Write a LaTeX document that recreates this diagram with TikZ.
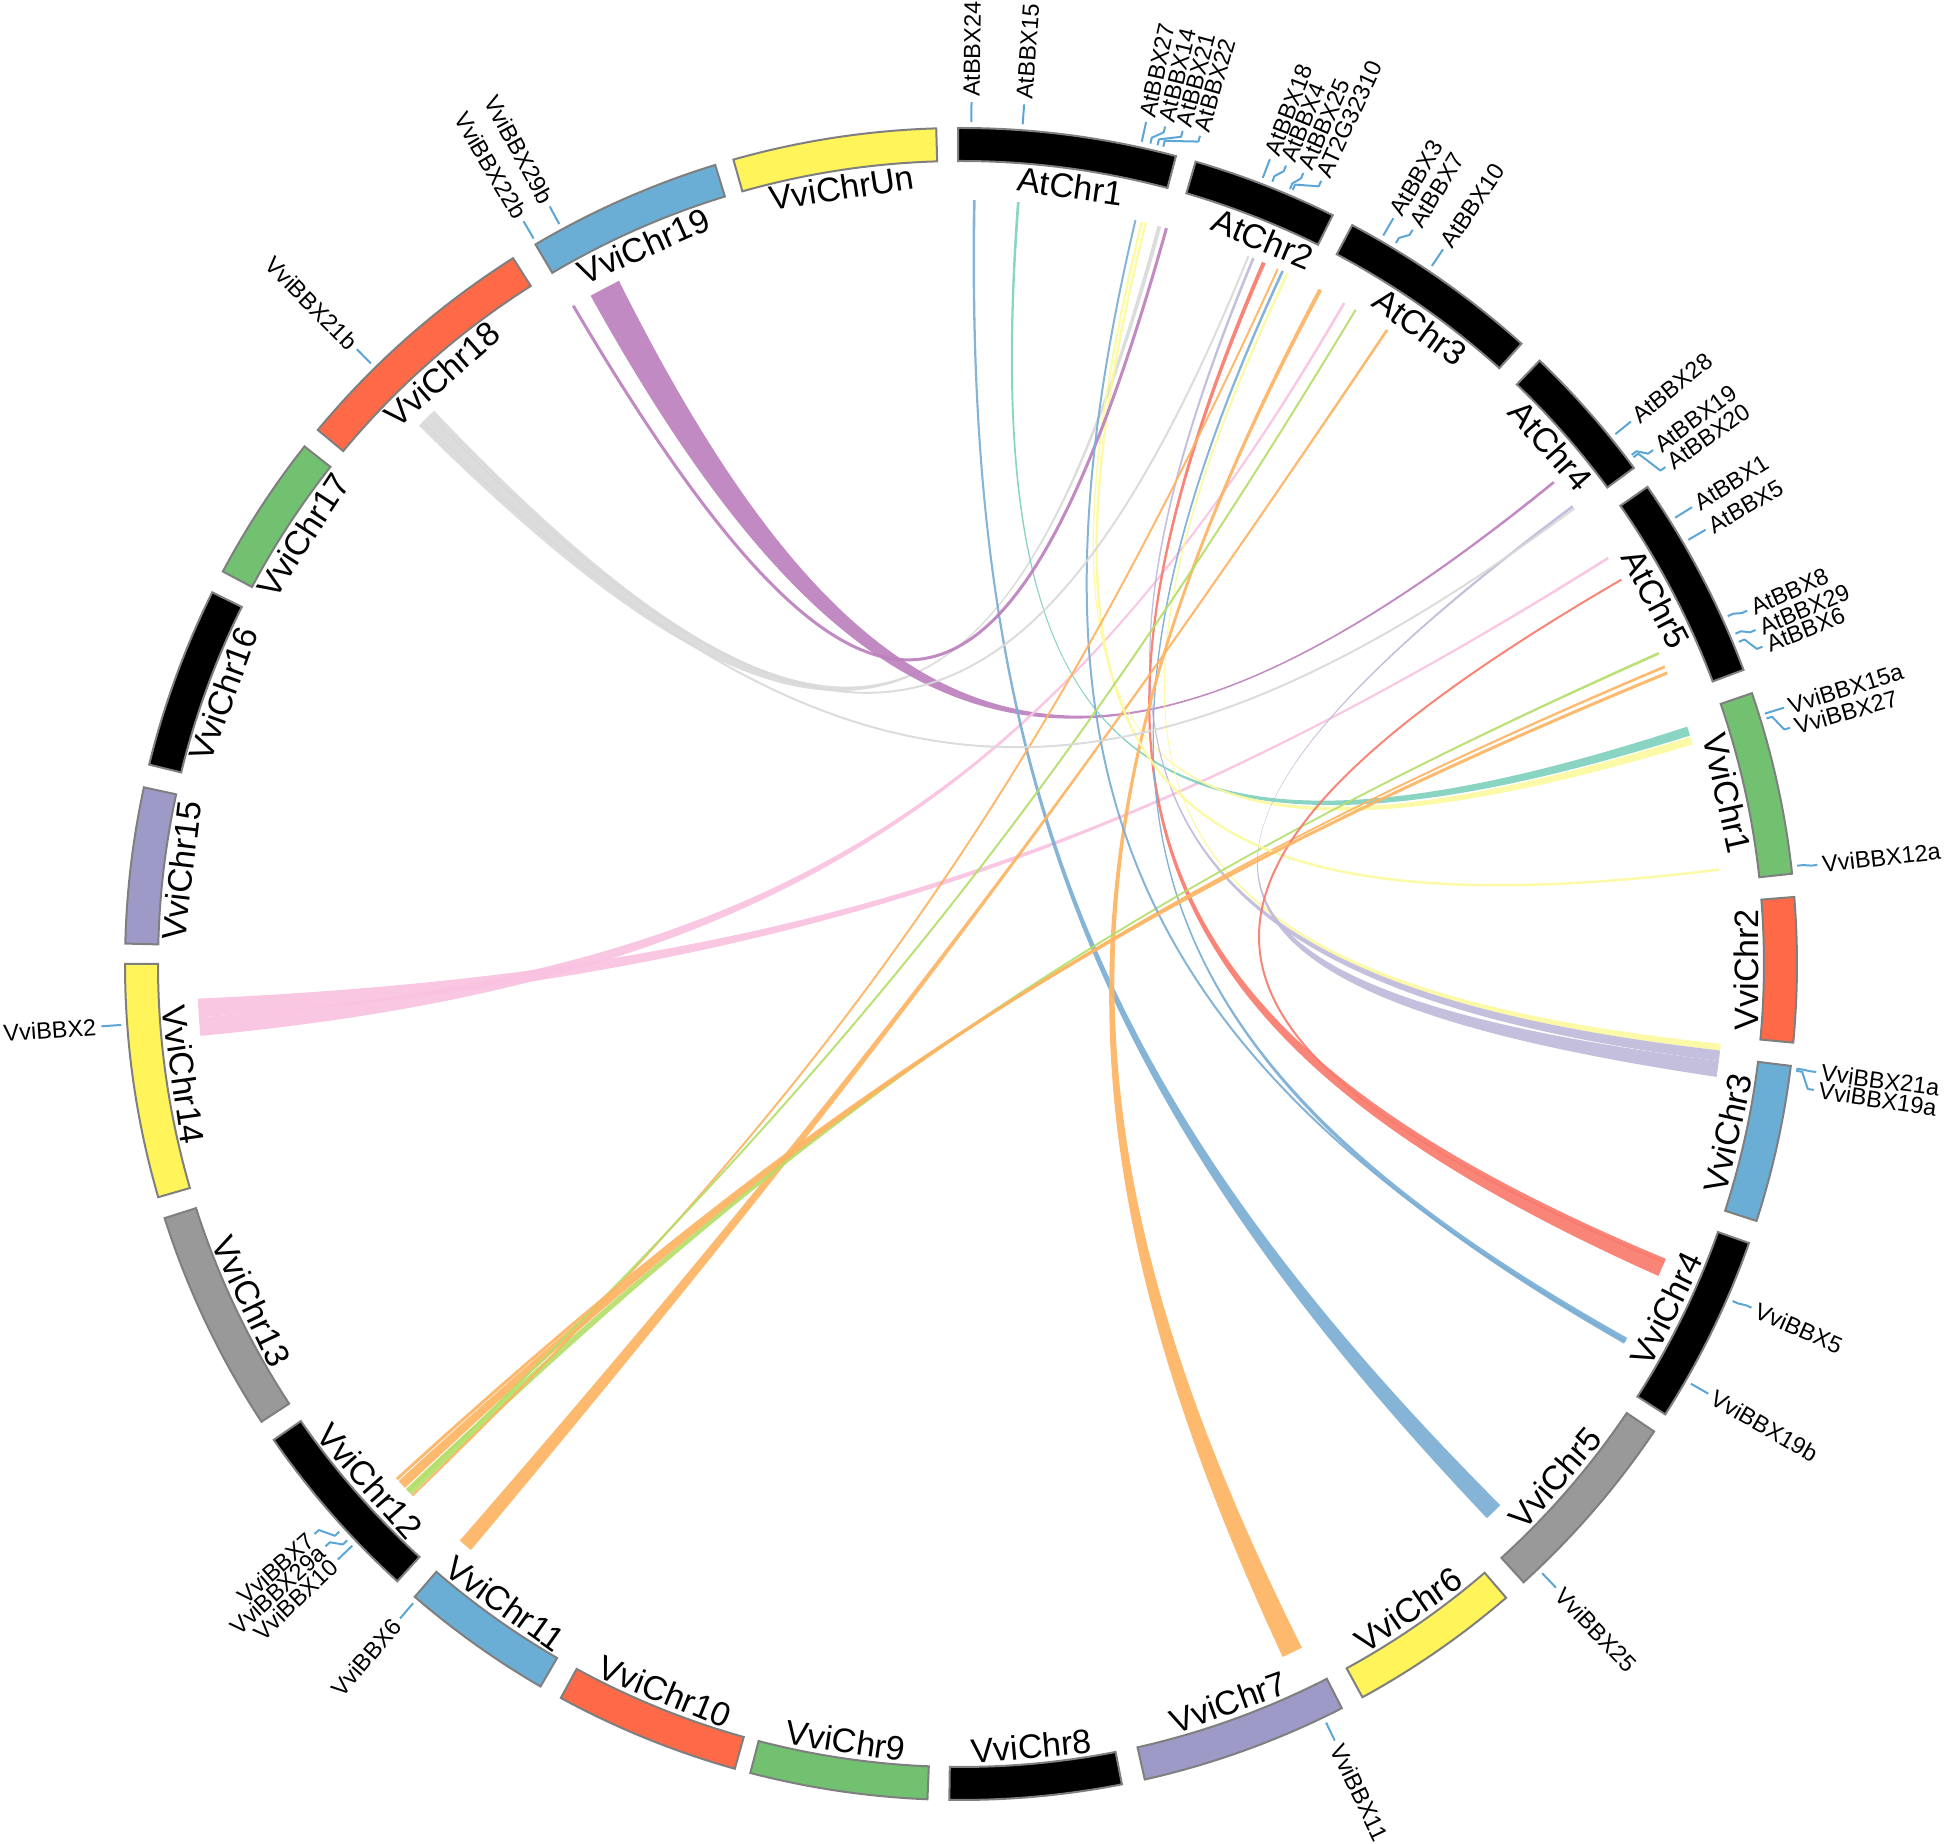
\documentclass[tikz,border=0pt]{standalone}
\usepackage{fontspec}
\setmainfont{Liberation Sans}
\definecolor{ringgreen}{HTML}{71C171}
\definecolor{ringred}{HTML}{FE6A47}
\definecolor{ringblue}{HTML}{6AAED6}
\definecolor{ringgray}{HTML}{999999}
\definecolor{ringyellow}{HTML}{FFF45A}
\definecolor{ringpurple}{HTML}{9E9AC8}
\definecolor{ringedge}{HTML}{7F7F7F}
\definecolor{tickblue}{HTML}{5BA6D6}
\definecolor{lteal}{HTML}{80D0BE}
\definecolor{lyellow}{HTML}{FCF8A0}
\definecolor{llav}{HTML}{BEBADA}
\definecolor{lred}{HTML}{F87A6D}
\definecolor{lblue}{HTML}{7BAED4}
\definecolor{lorange}{HTML}{FDB462}
\definecolor{lgreen}{HTML}{B3DE69}
\definecolor{lpink}{HTML}{F9C2E0}
\definecolor{lgray}{HTML}{D9D9D9}
\definecolor{lpurple}{HTML}{BC80BD}
\newcommand{\rib}[5]{\fill[#1, opacity=0.92] (#2:764) arc[start angle=#2, end angle=#3, radius=764] .. controls (#3:191) and (#4:191) .. (#4:764) arc[start angle=#4, end angle=#5, radius=764] .. controls (#5:191) and (#2:191) .. cycle;}
\newcommand{\lk}[4]{\draw[#1, line width=#4, opacity=0.92] (#2:764) .. controls (#2:191) and (#3:191) .. (#3:764);}
\newcommand{\chrom}[3]{\filldraw[fill=#1, draw=ringedge, line width=2pt] (#2:803) arc[start angle=#2, end angle=#3, radius=803] -- (#3:836) arc[start angle=#3, end angle=#2, radius=836] -- cycle;}
\newcommand{\chU}[3]{\node[chl, rotate=#2-90, anchor=north] (#1) at (#2:798) {#3};}
\newcommand{\chD}[3]{\node[chl, rotate=#2+90, anchor=south] (#1) at (#2:798) {#3};}
\newcommand{\gR}[4]{\draw[tick] (#2:842) -- (#2:848) -- (#3:856) -- (#3:862); \node[gl, rotate=#3, anchor=west] (#1) at (#3:867) {#4};}
\newcommand{\gL}[4]{\draw[tick] (#2:842) -- (#2:848) -- (#3:856) -- (#3:862); \node[gl, rotate=#3+180, anchor=east] (#1) at (#3:867) {#4};}
\begin{document}
\begin{tikzpicture}[x=1pt,y=1pt,
  chl/.style={font=\fontsize{34pt}{36pt}\selectfont, inner sep=0pt},
  gl/.style={font=\fontsize{23.5pt}{26pt}\selectfont, inner sep=0pt},
  tick/.style={draw=tickblue, line width=2pt, line join=round}]
\useasboundingbox (0,0) rectangle (1946,1844);
\begin{scope}[shift={(961,880)}]
% ---------- links: ribbons ----------
\rib{lgray}{75.1}{74.8}{135.2}{133.6}
\rib{lpurple}{39.2}{39.0}{119.0}{116.6}
\rib{lpink}{60.0}{59.8}{-174.6}{-176.0}
\rib{lpink}{32.2}{32.0}{-176.0}{-177.4}
\rib{lblue}{89.1}{88.9}{-45.1}{-46.5}
\rib{lteal}{85.8}{85.6}{18.1}{17.4}
\rib{lyellow}{76.4}{76.2}{17.3}{16.7}
\rib{lyellow}{64.8}{64.6}{-6.0}{-6.5}
\rib{llav}{67.6}{67.4}{-6.5}{-7.3}
\rib{llav}{36.9}{36.7}{-7.3}{-8.5}
\rib{lred}{66.8}{66.5}{-22.7}{-24.1}
\rib{lblue}{65.2}{65.0}{-29.3}{-29.8}
\rib{lorange}{62.1}{61.8}{-63.5}{-65.1}
\rib{lorange}{56.2}{56.0}{-129.9}{-131.0}
\rib{lgreen}{24.1}{23.9}{-136.0}{-136.6}
\rib{lorange}{23.0}{22.8}{-136.7}{-137.4}
% ---------- links: thin ----------
\lk{lyellow}{76.0}{7.1}{2.5pt}
\lk{lpurple}{74.4}{120.5}{3pt}
\lk{lblue}{76.8}{-29.6}{2pt}
\lk{lorange}{65.5}{-135.9}{2pt}
\lk{lgray}{67.9}{134.0}{2pt}
\lk{lgreen}{58.9}{-136.4}{2pt}
\lk{lgray}{36.6}{134.8}{2pt}
\lk{lred}{30.2}{-23.0}{2pt}
\lk{lorange}{22.4}{-137.6}{3pt}
% ---------- ring ----------
\chrom{black}{90.2}{75.1}
\chrom{black}{73.7}{63.6}
\chrom{black}{62.1}{47.9}
\chrom{black}{46.2}{36.4}
\chrom{black}{34.8}{20.6}
\chrom{ringgreen}{18.9}{6.2}
\chrom{ringred}{4.6}{-5.4}
\chrom{ringblue}{-7.0}{-17.9}
\chrom{black}{-19.5}{-32.6}
\chrom{ringgray}{-34.0}{-47.7}
\chrom{ringyellow}{-49.3}{-61.3}
\chrom{ringpurple}{-62.9}{-77.3}
\chrom{black}{-78.9}{-90.8}
\chrom{ringgreen}{-92.3}{-104.6}
\chrom{ringred}{-105.7}{-118.6}
\chrom{ringblue}{-120.2}{-130.8}
\chrom{black}{-132.4}{-145.3}
\chrom{ringgray}{-146.8}{-162.3}
\chrom{ringyellow}{-163.8}{-180.0}
\chrom{ringpurple}{178.6}{167.8}
\chrom{black}{166.2}{153.6}
\chrom{ringgreen}{152.0}{141.75}
\chrom{ringred}{140.3}{122.4}
\chrom{ringblue}{120.6}{107.1}
\chrom{ringyellow}{105.8}{91.7}
% ---------- chromosome labels ----------
\chU{c1}{82.0}{AtChr1}
\chU{c2}{67.4}{AtChr2}
\chU{c3}{54.2}{AtChr3}
\chU{c4}{41.3}{AtChr4}
\chU{c5}{27.7}{AtChr5}
\chU{c6}{12.55}{VviChr1}
\chD{c7}{-0.4}{VviChr2}
\chD{c8}{-12.45}{VviChr3}
\chD{c9}{-26.05}{VviChr4}
\chD{c10}{-40.85}{VviChr5}
\chD{c11}{-55.3}{VviChr6}
\chD{c12}{-70.1}{VviChr7}
\chD{c13}{-84.85}{VviChr8}
\chD{c14}{-98.45}{VviChr9}
\chD{c15}{-112.15}{VviChr10}
\chD{c16}{-125.5}{VviChr11}
\chD{c17}{-138.85}{VviChr12}
\chD{c18}{-154.55}{VviChr13}
\chD{c19}{-171.9}{VviChr14}
\chU{c20}{173.2}{VviChr15}
\chU{c21}{159.9}{VviChr16}
\chU{c22}{146.9}{VviChr17}
\chU{c23}{131.35}{VviChr18}
\chU{c24}{113.85}{VviChr19}
\chU{c25}{98.75}{VviChrUn}
% ---------- gene labels ----------
\gR{g1}{89.3}{89.3}{AtBBX24}
\gR{g2}{85.8}{85.8}{AtBBX15}
\gR{g3}{77.6}{77.6}{AtBBX27}
\gR{g4}{77.0}{76.3}{AtBBX14}
\gR{g5}{76.5}{75.1}{AtBBX21}
\gR{g6}{76.1}{73.9}{AtBBX22}
\gR{g7}{69.0}{69.0}{AtBBX18}
\gR{g8}{68.3}{67.85}{AtBBX4}
\gR{g9}{67.0}{66.6}{AtBBX25}
\gR{g10}{66.8}{65.3}{AT2G32310}
\gR{g11}{59.9}{59.9}{AtBBX3}
\gR{g12}{58.9}{58.4}{AtBBX7}
\gR{g13}{56.0}{56.0}{AtBBX10}
\gR{g14}{39.0}{39.0}{AtBBX28}
\gR{g15}{37.2}{36.6}{AtBBX19}
\gR{g16}{37.0}{35.2}{AtBBX20}
\gR{g17}{32.0}{32.0}{AtBBX1}
\gR{g18}{30.25}{30.25}{AtBBX5}
\gR{g19}{24.4}{24.2}{AtBBX8}
\gR{g20}{23.1}{22.8}{AtBBX29}
\gR{g21}{22.5}{21.6}{AtBBX6}
\gR{g22}{17.3}{17.3}{VviBBX15a}
\gR{g23}{16.95}{15.9}{VviBBX27}
\gR{g24}{6.7}{6.6}{VviBBX12a}
\gR{g25}{-7.15}{-7.2}{VviBBX21a}
\gR{g26}{-7.3}{-8.4}{VviBBX19a}
\gR{g27}{-23.6}{-23.5}{VviBBX5}
\gR{g28}{-29.9}{-29.9}{VviBBX19b}
\gR{g29}{-46.35}{-46.35}{VviBBX25}
\gR{g30}{-64.3}{-64.3}{VviBBX11}
\gL{g31}{-130.6}{-130.6}{VviBBX6}
\gL{g32}{-137.6}{-138.6}{VviBBX7}
\gL{g33}{-136.8}{-137.5}{VviBBX29a}
\gL{g34}{-136.3}{-136.3}{VviBBX10}
\gL{g35}{-175.85}{-175.85}{VviBBX2}
\gL{g36}{134.5}{134.5}{VviBBX21b}
\gL{g37}{120.5}{120.5}{VviBBX22b}
\gL{g38}{118.5}{118.5}{VviBBX29b}
\end{scope}
\end{tikzpicture}
\end{document}
